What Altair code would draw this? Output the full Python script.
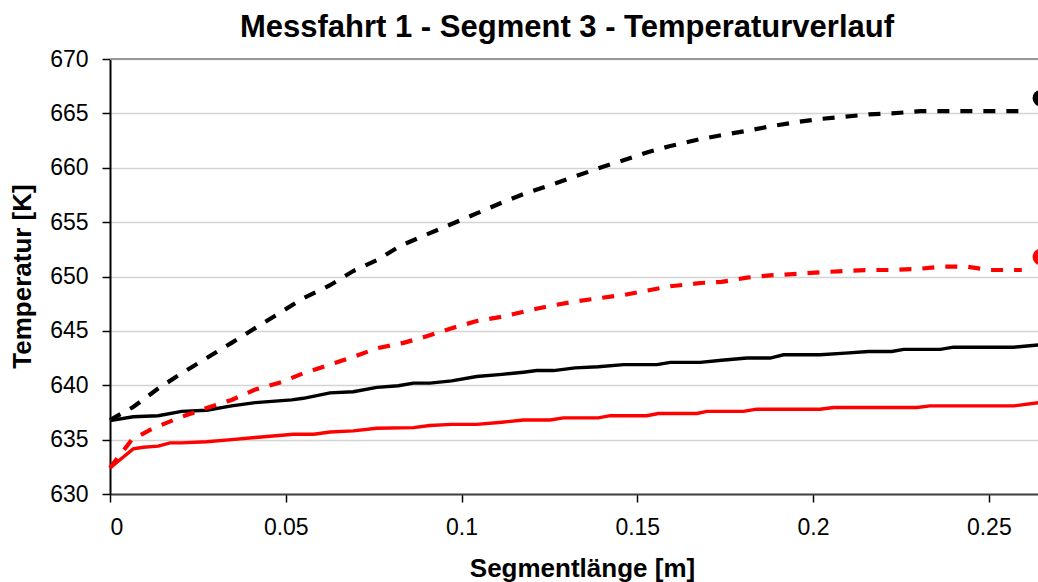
import altair as alt
import pandas as pd

# ---- data ----
bd_x = [0, 0.0066, 0.0137, 0.0204, 0.0275, 0.0346, 0.0413, 0.048, 0.055, 0.0626, 0.0692, 0.0759,
        0.0825, 0.0896, 0.0977, 0.1043, 0.1115, 0.1186, 0.1252, 0.1323, 0.1394, 0.1461, 0.1527,
        0.1594, 0.1674, 0.174, 0.1812, 0.1878, 0.1954, 0.2025, 0.2092, 0.2158, 0.2224, 0.2305,
        0.2400, 0.2500, 0.2594]
bd_y = [636.8, 638.0, 639.7, 641.1, 642.5, 643.9, 645.25, 646.6, 648.0, 649.2, 650.5, 651.5,
        652.8, 653.8, 654.9, 655.8, 656.8, 657.7, 658.4, 659.2, 660.0, 660.7, 661.4,
        662.0, 662.6, 663.0, 663.4, 663.8, 664.2, 664.5, 664.7, 664.9, 665.0, 665.2,
        665.2, 665.2, 665.2]

rd_x = [0, 0.0062, 0.0123, 0.0204, 0.0275, 0.0346, 0.0413, 0.0489, 0.055, 0.0626, 0.0692, 0.0759,
        0.0835, 0.0901, 0.0972, 0.1043, 0.1115, 0.1181, 0.1252, 0.1323, 0.1389, 0.1461, 0.1527,
        0.1594, 0.1679, 0.174, 0.1812, 0.1878, 0.1954, 0.2025, 0.2092, 0.2158, 0.2224, 0.23,
        0.2362, 0.2438, 0.2504, 0.2594]
rd_y = [632.4, 635.0, 636.05, 637.1, 637.9, 638.65, 639.6, 640.3, 641.1, 641.9, 642.6, 643.4,
        643.9, 644.5, 645.25, 645.9, 646.3, 646.8, 647.3, 647.7, 648.0, 648.3, 648.7,
        649.1, 649.4, 649.5, 649.9, 650.1, 650.25, 650.4, 650.5, 650.6, 650.6, 650.7,
        650.9, 650.9, 650.6, 650.6]

bs_x = [0, 0.0066, 0.0137, 0.0204, 0.0275, 0.0346, 0.0413, 0.0517, 0.055, 0.0626, 0.0692, 0.0759,
        0.082, 0.0863, 0.091, 0.0972, 0.1043, 0.1115, 0.1176, 0.1214, 0.1262, 0.1323, 0.1389,
        0.1461, 0.1556, 0.1594, 0.1679, 0.174, 0.1812, 0.1878, 0.1916, 0.202, 0.2092, 0.2158,
        0.2224, 0.2258, 0.2362, 0.24, 0.2571, 0.2641]
bs_y = [636.75, 637.1, 637.2, 637.6, 637.7, 638.1, 638.4, 638.65, 638.8, 639.3, 639.4, 639.8,
        639.95, 640.2, 640.2, 640.4, 640.8, 641.0, 641.2, 641.35, 641.35, 641.6, 641.7,
        641.9, 641.9, 642.1, 642.1, 642.3, 642.5, 642.5, 642.8, 642.8, 642.95, 643.1,
        643.1, 643.3, 643.3, 643.5, 643.5, 643.7]

rs_x = [0, 0.0038, 0.0066, 0.0095, 0.0137, 0.0171, 0.0204, 0.0275, 0.0346, 0.0413, 0.0489, 0.0522,
        0.058, 0.0626, 0.0692, 0.0759, 0.0863, 0.091, 0.0972, 0.1043, 0.1115, 0.1176, 0.1252,
        0.129, 0.1389, 0.1423, 0.1527, 0.156, 0.167, 0.1698, 0.1802, 0.184, 0.202, 0.2058,
        0.2296, 0.2333, 0.2571, 0.2641]
rs_y = [632.4, 633.4, 634.15, 634.3, 634.4, 634.7, 634.7, 634.8, 635.0, 635.2, 635.4, 635.5,
        635.5, 635.7, 635.8, 636.05, 636.1, 636.3, 636.4, 636.4, 636.6, 636.8, 636.8,
        637.0, 637.0, 637.2, 637.2, 637.4, 637.4, 637.6, 637.6, 637.8, 637.8, 637.95,
        637.95, 638.1, 638.1, 638.4]

dot_x = [0.2648, 0.2648]
dot_y = [666.4, 651.8]
dot_color = ["#000000", "#ff0000"]

x_ticks = [0, 0.05, 0.1, 0.15, 0.2, 0.25]
y_ticks = [630, 635, 640, 645, 650, 655, 660, 665, 670]

FONT = "Liberation Sans"

xscale = alt.Scale(domain=[0, 0.264], nice=False, zero=False)
yscale = alt.Scale(domain=[630, 670], nice=False, zero=False)

xaxis = alt.Axis(values=x_ticks, format="~g", title="Segmentlänge [m]",
                 labelFont=FONT, labelFontSize=23, labelColor="#000000", labelPadding=14,
                 tickSize=8, tickColor="#000000", tickWidth=1.5,
                 domainColor="#404040", domainWidth=2, grid=False,
                 titleFont=FONT, titleFontSize=26, titleFontWeight="bold", titleColor="#000000",
                 titleX=472, titleY=74, titleBaseline="middle", titleAnchor="middle")
yaxis = alt.Axis(values=y_ticks, title="Temperatur [K]",
                 labelFont=FONT, labelFontSize=23, labelColor="#000000", labelPadding=14,
                 tickSize=8, tickColor="#000000", tickWidth=1.5,
                 domainColor="#000000", domainWidth=2,
                 grid=True, gridColor="#d4d4d4", gridWidth=1.5,
                 titleFont=FONT, titleFontSize=26, titleFontWeight="bold", titleColor="#000000",
                 titleX=-88, titleY=217, titleBaseline="middle", titleAnchor="middle", titleAngle=270)


def line(xs, ys, color, dash=None, width=3):
    df = pd.DataFrame({"x": xs, "y": ys})
    kw = dict(color=color, strokeWidth=width, strokeCap="butt", strokeJoin="miter", clip=False)
    if dash:
        kw["strokeDash"] = dash
    return alt.Chart(df).mark_line(**kw).encode(
        x=alt.X("x:Q", scale=xscale, axis=xaxis),
        y=alt.Y("y:Q", scale=yscale, axis=yaxis),
    )


top_rule = alt.Chart(pd.DataFrame({"y": [y_ticks[-1]]})).mark_rule(
    color="#999999", strokeWidth=2).encode(y=alt.Y("y:Q", scale=yscale))

dots = alt.Chart(pd.DataFrame({"x": dot_x, "y": dot_y, "c": dot_color})).mark_circle(
    size=270, opacity=1).encode(
    x=alt.X("x:Q", scale=xscale),
    y=alt.Y("y:Q", scale=yscale),
    color=alt.Color("c:N", scale=None, legend=None),
)

chart = alt.layer(
    top_rule,
    line(bs_x, bs_y, "#000000", width=3.4),
    line(rs_x, rs_y, "#ff0000", width=3.4),
    line(bd_x, bd_y, "#000000", dash=[12, 11], width=4.2),
    line(rd_x, rd_y, "#ff0000", dash=[12, 11], width=4.2),
    dots,
).properties(
    width=928, height=435,
    title=alt.TitleParams(text="Messfahrt 1 - Segment 3 - Temperaturverlauf",
                          font=FONT, fontSize=31, fontWeight="bold", color="#000000",
                          anchor="middle", dx=-7, offset=4),
    autosize=alt.AutoSizeParams(type="none"),
    padding={"left": 110, "top": 59, "right": 0, "bottom": 88},
).configure_view(stroke=None).configure(background="#ffffff")

chart.save("out.html", embed_options={"renderer": "svg", "actions": False})
